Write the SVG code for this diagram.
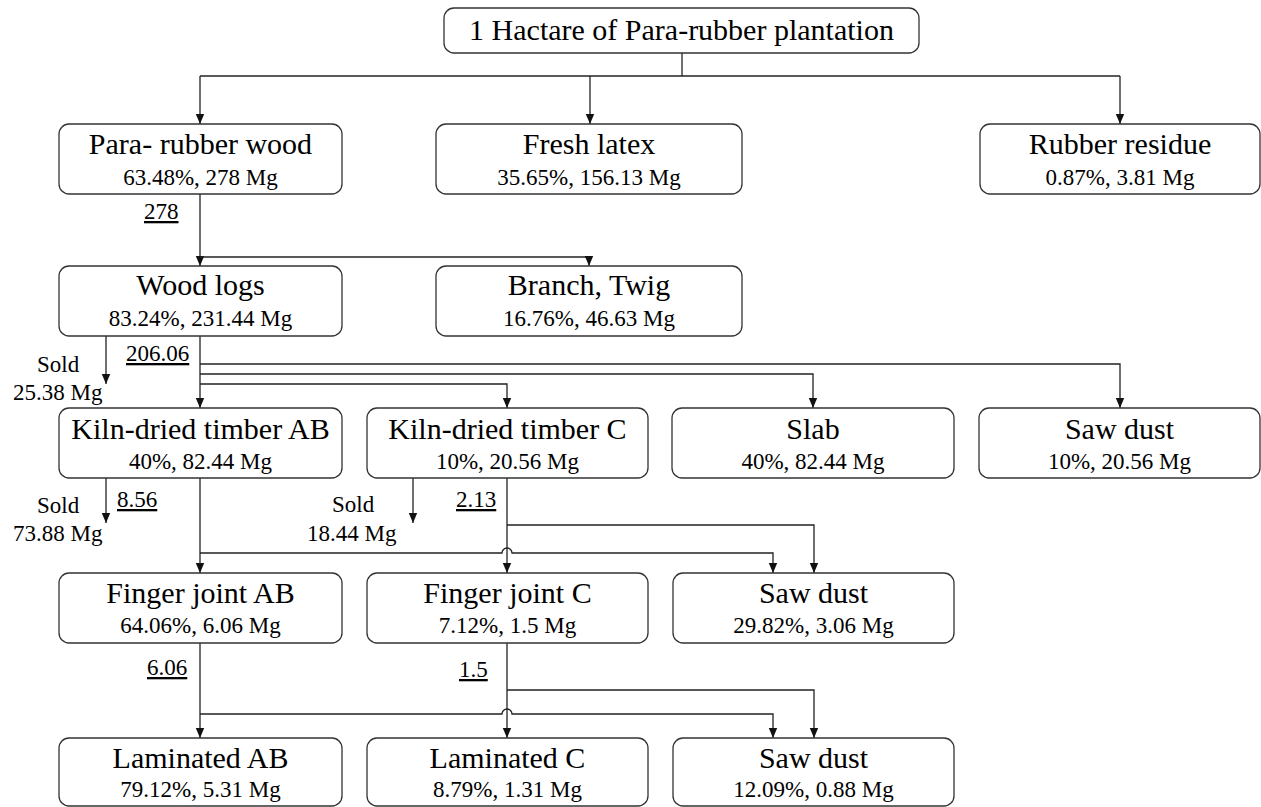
<svg xmlns="http://www.w3.org/2000/svg" width="1261" height="807" viewBox="0 0 1261 807">
<style>
.box{fill:#fff;stroke:#333;stroke-width:1.3}
.t{font-family:"Liberation Serif","Times New Roman",serif;fill:#000;text-anchor:middle}
.h{font-size:30px}
.s{font-size:23px}
.l{font-family:"Liberation Serif","Times New Roman",serif;font-size:23px;fill:#000}
.u{text-decoration:underline}
.c{fill:none;stroke:#222;stroke-width:1.3}
</style>
<defs>
<marker id="ah" markerUnits="userSpaceOnUse" markerWidth="10" markerHeight="10" refX="10" refY="5" orient="auto">
<path d="M0,0.8 L10,5 L0,9.2 z" fill="#111"/>
</marker>
</defs>
<rect width="1261" height="807" fill="#fff"/>
<g id="connectors">
<path class="c" d="M682,53 V76"/>
<path class="c" d="M200,76 H1120"/>
<path class="c" d="M200,76 V124" marker-end="url(#ah)"/>
<path class="c" d="M590,76 V124" marker-end="url(#ah)"/>
<path class="c" d="M1120,76 V124" marker-end="url(#ah)"/>
<path class="c" d="M200,194 V266" marker-end="url(#ah)"/>
<path class="c" d="M200,257 H589 V266" marker-end="url(#ah)"/>
<path class="c" d="M106,336 V384" marker-end="url(#ah)"/>
<path class="c" d="M200,336 V408" marker-end="url(#ah)"/>
<path class="c" d="M200,364 H1120 V408" marker-end="url(#ah)"/>
<path class="c" d="M200,374 H813 V408" marker-end="url(#ah)"/>
<path class="c" d="M200,384 H507 V408" marker-end="url(#ah)"/>
<path class="c" d="M106,478 V523" marker-end="url(#ah)"/>
<path class="c" d="M413,478 V523" marker-end="url(#ah)"/>
<path class="c" d="M200,478 V573" marker-end="url(#ah)"/>
<path class="c" d="M200,553 H502 A5,5 0 0 1 512,553 H773 V573" marker-end="url(#ah)"/>
<path class="c" d="M507,478 V573" marker-end="url(#ah)"/>
<path class="c" d="M507,525 H814 V573" marker-end="url(#ah)"/>
<path class="c" d="M200,643 V738" marker-end="url(#ah)"/>
<path class="c" d="M200,714 H502 A5,5 0 0 1 512,714 H773 V738" marker-end="url(#ah)"/>
<path class="c" d="M507,643 V738" marker-end="url(#ah)"/>
<path class="c" d="M507,690 H814 V738" marker-end="url(#ah)"/>
</g>
<g id="labels">
<text class="l u" x="144" y="219">278</text>
<text class="l u" x="126" y="361">206.06</text>
<text class="l" x="37" y="372">Sold</text>
<text class="l" x="13" y="400">25.38 Mg</text>
<text class="l u" x="117" y="507">8.56</text>
<text class="l" x="37" y="513">Sold</text>
<text class="l" x="13" y="541">73.88 Mg</text>
<text class="l u" x="456" y="507">2.13</text>
<text class="l" x="332" y="512">Sold</text>
<text class="l" x="307" y="541">18.44 Mg</text>
<text class="l u" x="147" y="675">6.06</text>
<text class="l u" x="459" y="677">1.5</text>
</g>
<g id="n-root">
<rect class="box" x="444" y="8" width="475" height="45" rx="10"/>
<text class="t h" x="681.5" y="40">1 Hactare of Para-rubber plantation</text>
</g>
<g id="n-wood">
<rect class="box" x="59" y="124" width="283" height="70" rx="10"/>
<text class="t h" x="200.5" y="154">Para- rubber wood</text>
<text class="t s" x="200.5" y="185">63.48%, 278 Mg</text>
</g>
<g id="n-latex">
<rect class="box" x="436" y="124" width="306" height="70" rx="10"/>
<text class="t h" x="589" y="154">Fresh latex</text>
<text class="t s" x="589" y="185">35.65%, 156.13 Mg</text>
</g>
<g id="n-residue">
<rect class="box" x="980" y="124" width="280" height="70" rx="10"/>
<text class="t h" x="1120" y="154">Rubber residue</text>
<text class="t s" x="1120" y="185">0.87%, 3.81 Mg</text>
</g>
<g id="n-logs">
<rect class="box" x="59" y="266" width="283" height="70" rx="10"/>
<text class="t h" x="200.5" y="295">Wood logs</text>
<text class="t s" x="200.5" y="326">83.24%, 231.44 Mg</text>
</g>
<g id="n-branch">
<rect class="box" x="436" y="266" width="306" height="70" rx="10"/>
<text class="t h" x="589" y="295">Branch, Twig</text>
<text class="t s" x="589" y="326">16.76%, 46.63 Mg</text>
</g>
<g id="n-kilnab">
<rect class="box" x="59" y="408" width="283" height="70" rx="10"/>
<text class="t h" x="200.5" y="439">Kiln-dried timber AB</text>
<text class="t s" x="200.5" y="469">40%, 82.44 Mg</text>
</g>
<g id="n-kilnc">
<rect class="box" x="367" y="408" width="281" height="70" rx="10"/>
<text class="t h" x="507.5" y="439">Kiln-dried timber C</text>
<text class="t s" x="507.5" y="469">10%, 20.56 Mg</text>
</g>
<g id="n-slab">
<rect class="box" x="672" y="408" width="282" height="70" rx="10"/>
<text class="t h" x="813" y="439">Slab</text>
<text class="t s" x="813" y="469">40%, 82.44 Mg</text>
</g>
<g id="n-sawdust1">
<rect class="box" x="979" y="408" width="281" height="70" rx="10"/>
<text class="t h" x="1119.5" y="439">Saw dust</text>
<text class="t s" x="1119.5" y="469">10%, 20.56 Mg</text>
</g>
<g id="n-fjab">
<rect class="box" x="59" y="573" width="283" height="70" rx="10"/>
<text class="t h" x="200.5" y="603">Finger joint AB</text>
<text class="t s" x="200.5" y="633">64.06%, 6.06 Mg</text>
</g>
<g id="n-fjc">
<rect class="box" x="367" y="573" width="281" height="70" rx="10"/>
<text class="t h" x="507.5" y="603">Finger joint C</text>
<text class="t s" x="507.5" y="633">7.12%, 1.5 Mg</text>
</g>
<g id="n-sawdust2">
<rect class="box" x="673" y="573" width="281" height="70" rx="10"/>
<text class="t h" x="813.5" y="603">Saw dust</text>
<text class="t s" x="813.5" y="633">29.82%, 3.06 Mg</text>
</g>
<g id="n-lamab">
<rect class="box" x="59" y="738" width="283" height="68" rx="10"/>
<text class="t h" x="200.5" y="768">Laminated AB</text>
<text class="t s" x="200.5" y="797">79.12%, 5.31 Mg</text>
</g>
<g id="n-lamc">
<rect class="box" x="367" y="738" width="281" height="68" rx="10"/>
<text class="t h" x="507.5" y="768">Laminated C</text>
<text class="t s" x="507.5" y="797">8.79%, 1.31 Mg</text>
</g>
<g id="n-sawdust3">
<rect class="box" x="673" y="738" width="281" height="68" rx="10"/>
<text class="t h" x="813.5" y="768">Saw dust</text>
<text class="t s" x="813.5" y="797">12.09%, 0.88 Mg</text>
</g>
</svg>
